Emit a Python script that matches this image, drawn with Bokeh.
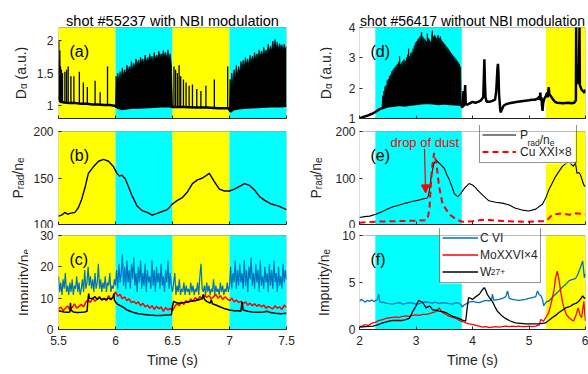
import numpy as np
from math import pi
from bokeh.plotting import figure
from bokeh.layouts import gridplot
from bokeh.models import (Range1d, FixedTicker, NumeralTickFormatter, BoxAnnotation,
                          Label, Legend, LegendItem, Arrow, NormalHead)
from bokeh.embed import file_html
from bokeh.resources import INLINE

# ---------------- data ----------------
left_title = "shot #55237 with NBI modulation"
right_title = "shot #56417 without NBI modulation"
left_xticks = [5.5, 6, 6.5, 7, 7.5]
right_xticks = [2, 3, 4, 5, 6]

# heating phases (A = yellow, B = cyan)
left_phase_start = [5.5, 6.0, 6.5, 7.0]
left_phase_end = [6.0, 6.5, 7.0, 7.5]
left_phase_kind = ["A", "B", "A", "B"]
right_phase_start = [2.28, 5.30]
right_phase_end = [3.81, 6.0]
right_phase_kind = ["B", "A"]

# (a) D-alpha, shot 55237: baseline, isolated ELM spikes, dense ELM envelopes
a_base = [(5.50, 1.12), (5.505, 1.10), (5.51, 1.07), (5.52, 1.05), (5.55, 1.04), (5.60, 1.03),
          (5.65, 1.03), (5.70, 1.02), (5.75, 1.02), (5.80, 1.01), (5.85, 1.01), (5.90, 1.00),
          (5.95, 1.00), (5.99, 0.99), (6.02, 0.96), (6.05, 0.94), (6.10, 0.95), (6.15, 0.96),
          (6.20, 0.96), (6.30, 0.97), (6.40, 0.98), (6.48, 0.98), (6.50, 0.97), (6.55, 0.97),
          (6.60, 0.97), (6.70, 0.96), (6.80, 0.96), (6.90, 0.95), (6.99, 0.95), (7.01, 0.90),
          (7.03, 0.93), (7.08, 0.95), (7.15, 0.96), (7.25, 0.97), (7.35, 0.98), (7.45, 0.98),
          (7.50, 0.99)]
a_spikes = [(5.503, 2.00), (5.508, 1.70), (5.512, 1.85), (5.518, 1.60), (5.526, 1.55),
            (5.535, 1.50), (5.556, 1.52), (5.571, 1.55), (5.585, 1.60), (5.609, 1.45),
            (5.635, 1.45), (5.683, 1.52), (5.718, 1.35), (5.753, 1.28), (5.821, 1.38),
            (5.865, 1.20), (5.930, 1.60), (6.513, 1.60), (6.527, 1.55), (6.543, 1.50),
            (6.558, 1.62), (6.572, 1.45), (6.596, 1.40), (6.619, 1.35), (6.646, 1.30),
            (6.675, 1.32), (6.713, 1.25), (6.749, 1.22), (6.793, 1.30), (6.867, 1.40),
            (6.984, 1.60)]
a_env1 = [(6.00, 1.00), (6.005, 1.45), (6.01, 1.30), (6.02, 1.50), (6.03, 1.35), (6.04, 1.52),
          (6.05, 1.40), (6.06, 1.58), (6.07, 1.45), (6.08, 1.55), (6.09, 1.48), (6.10, 1.62),
          (6.11, 1.50), (6.12, 1.60), (6.13, 1.52), (6.14, 1.68), (6.15, 1.55), (6.16, 1.65),
          (6.17, 1.58), (6.18, 1.72), (6.19, 1.60), (6.20, 1.70), (6.21, 1.62), (6.22, 1.75),
          (6.23, 1.65), (6.24, 1.72), (6.25, 1.62), (6.26, 1.78), (6.27, 1.66), (6.28, 1.74),
          (6.29, 1.68), (6.30, 1.80), (6.31, 1.70), (6.32, 1.76), (6.33, 1.66), (6.34, 1.82),
          (6.35, 1.70), (6.36, 1.78), (6.37, 1.72), (6.38, 1.84), (6.39, 1.72), (6.40, 1.80),
          (6.41, 1.74), (6.42, 1.85), (6.43, 1.76), (6.44, 1.82), (6.45, 1.72), (6.46, 1.86),
          (6.47, 1.70), (6.48, 1.80), (6.49, 1.62), (6.50, 0.98)]
a_env2 = [(7.00, 0.95), (7.005, 1.40), (7.01, 1.20), (7.02, 1.50), (7.03, 1.30), (7.04, 1.55),
          (7.05, 1.40), (7.06, 1.62), (7.07, 1.45), (7.08, 1.60), (7.09, 1.50), (7.10, 1.68),
          (7.11, 1.55), (7.12, 1.70), (7.13, 1.58), (7.14, 1.74), (7.15, 1.62), (7.16, 1.72),
          (7.17, 1.60), (7.18, 1.78), (7.19, 1.66), (7.20, 1.76), (7.21, 1.68), (7.22, 1.82),
          (7.23, 1.70), (7.24, 1.80), (7.25, 1.72), (7.26, 1.86), (7.27, 1.74), (7.28, 1.84),
          (7.29, 1.76), (7.30, 1.90), (7.31, 1.78), (7.32, 1.86), (7.33, 1.80), (7.34, 1.95),
          (7.35, 1.82), (7.36, 1.92), (7.37, 1.84), (7.38, 2.00), (7.39, 1.86), (7.40, 2.02),
          (7.41, 1.88), (7.42, 1.98), (7.43, 1.86), (7.44, 1.96), (7.45, 1.88), (7.46, 1.94),
          (7.47, 1.84), (7.48, 1.95), (7.49, 1.86), (7.50, 1.92)]

# (b) Prad/ne, shot 55237
b_prad = [(5.500, 109), (5.527, 110), (5.556, 113), (5.580, 111), (5.600, 112), (5.644, 113),
          (5.674, 118), (5.703, 127), (5.733, 140), (5.762, 155), (5.806, 162), (5.851, 168),
          (5.895, 170), (5.939, 168), (5.983, 162), (6.013, 155), (6.035, 152), (6.057, 153),
          (6.086, 149), (6.116, 140), (6.145, 131), (6.189, 120), (6.233, 115), (6.278, 113),
          (6.322, 110), (6.366, 112), (6.410, 114), (6.454, 116), (6.499, 122), (6.543, 126),
          (6.587, 129), (6.631, 135), (6.675, 144), (6.719, 148), (6.764, 150), (6.823, 155),
          (6.867, 146), (6.911, 138), (6.955, 136), (6.999, 136), (7.043, 138), (7.088, 141),
          (7.132, 144), (7.176, 142), (7.220, 137), (7.264, 130), (7.309, 126), (7.367, 122),
          (7.426, 120), (7.500, 116)]

# (c) impurity / ne, shot 55237 (C VI sampled every 10 ms, Mo every 20 ms)
c_cvi = [17, 12, 15, 11, 16, 13, 18, 12, 14, 11,
         15, 12, 16, 11, 14, 13, 17, 12, 15, 11,
         13, 16, 12, 19, 13, 15, 20, 14, 17, 13,
         16, 12, 18, 13, 15, 21, 13, 16, 12, 15,
         13, 17, 12, 15, 14, 18, 12, 14, 13, 16,
         14, 19, 13, 21, 15, 18, 24, 14, 20, 13,
         22, 15, 19, 13, 21, 16, 23, 14, 18, 12,
         20, 15, 22, 13, 18, 14, 21, 12, 19, 15,
         17, 13, 22, 14, 19, 12, 20, 15, 18, 13,
         21, 14, 17, 12, 19, 15, 22, 13, 18, 14,
         12, 15, 18, 11, 14, 12, 16, 11, 13, 12,
         15, 11, 14, 12, 13, 11, 15, 12, 14, 11,
         13, 12, 15, 11, 17, 21, 13, 12, 14, 11,
         15, 12, 14, 11, 13, 12, 16, 11, 14, 12,
         13, 11, 15, 12, 14, 11, 13, 12, 15, 12,
         14, 20, 13, 18, 15, 22, 13, 19, 14, 21,
         15, 18, 13, 22, 14, 19, 12, 20, 16, 23,
         14, 18, 13, 21, 15, 19, 12, 22, 14, 17,
         13, 20, 15, 18, 12, 21, 14, 19, 13, 22,
         15, 18, 12, 20, 14, 17, 13, 21, 15, 19,
         16]
c_mo = [6.5, 7.2, 6.0, 6.8, 7.5, 6.3, 7.0, 8.2, 6.8, 7.4,
        8.0, 7.2, 8.8, 9.5, 8.6, 10.2, 9.0, 9.8, 10.5, 9.4,
        10.0, 9.2, 10.8, 9.6, 10.4, 12.0, 10.6, 11.2, 9.8, 10.4,
        9.2, 9.8, 8.6, 9.0, 8.2, 8.8, 7.6, 8.4, 7.2, 7.8,
        6.8, 7.6, 6.4, 7.4, 6.6, 7.2, 5.8, 7.0, 6.2, 6.8,
        6.0, 7.4, 8.2, 7.6, 8.8, 8.0, 9.2, 8.6, 9.8, 9.0,
        10.2, 9.4, 10.6, 9.8, 11.0, 10.2, 10.8, 9.8, 10.4, 11.2,
        10.0, 10.8, 9.6, 10.4, 9.8, 9.2, 10.0, 8.8, 9.4, 8.6,
        9.0, 8.2, 8.8, 7.8, 8.4, 7.6, 8.2, 7.4, 8.0, 7.2,
        7.8, 6.8, 7.4, 7.0, 6.6, 7.6, 6.8, 7.2, 6.4, 7.8,
        7.0]
c_w = [(5.50, 6.0), (5.52, 5.8), (5.55, 5.6), (5.58, 5.5), (5.60, 5.6), (5.605, 8.5), (5.61, 6.2),
       (5.63, 5.6), (5.66, 5.4), (5.70, 5.5), (5.73, 5.6), (5.75, 5.8), (5.76, 10.0), (5.765, 11.5),
       (5.77, 10.0), (5.80, 9.8), (5.82, 10.5), (5.84, 9.6), (5.86, 10.2), (5.88, 9.5), (5.90, 9.8),
       (5.92, 9.6), (5.94, 10.0), (5.96, 9.5), (5.98, 10.5), (5.985, 11.5), (5.99, 9.5), (6.00, 8.8),
       (6.02, 8.0), (6.05, 7.5), (6.08, 6.8), (6.10, 6.2), (6.13, 5.8), (6.16, 5.4), (6.20, 5.0),
       (6.25, 4.8), (6.30, 4.6), (6.35, 4.5), (6.40, 4.5), (6.45, 4.6), (6.49, 4.7), (6.50, 7.5),
       (6.51, 9.0), (6.53, 8.6), (6.56, 8.4), (6.60, 8.6), (6.63, 8.8), (6.66, 9.0), (6.70, 9.2),
       (6.73, 9.5), (6.76, 9.8), (6.77, 11.2), (6.78, 9.6), (6.80, 9.0), (6.83, 8.4), (6.84, 9.5),
       (6.85, 8.2), (6.88, 7.8), (6.92, 7.2), (6.96, 6.6), (7.00, 6.2), (7.04, 6.0), (7.08, 6.0),
       (7.10, 5.8), (7.11, 8.8), (7.12, 6.2), (7.16, 5.8), (7.20, 5.6), (7.25, 5.5), (7.30, 5.6),
       (7.33, 5.8), (7.36, 5.4), (7.40, 5.2), (7.45, 5.0), (7.50, 5.2)]

# (d) D-alpha, shot 56417 (two spikes run off the top of the axes)
d_base = [(2.00, 1.00), (2.05, 1.04), (2.10, 1.07), (2.15, 1.10), (2.20, 1.14), (2.25, 1.18),
          (2.30, 1.24), (2.35, 1.30), (2.40, 1.34), (2.45, 1.37), (2.50, 1.40), (2.60, 1.42),
          (2.70, 1.45), (2.80, 1.43), (2.90, 1.46), (3.00, 1.48), (3.10, 1.50), (3.20, 1.52),
          (3.30, 1.50), (3.40, 1.48), (3.50, 1.50), (3.60, 1.48), (3.70, 1.47), (3.80, 1.45),
          (3.82, 1.35), (3.84, 1.90), (3.85, 1.40), (3.87, 2.10), (3.88, 1.50), (3.90, 1.45),
          (3.95, 1.50), (4.00, 1.55), (4.05, 1.52), (4.10, 1.55), (4.15, 1.60), (4.19, 1.70),
          (4.20, 2.30), (4.21, 2.95), (4.22, 2.20), (4.23, 1.70), (4.25, 1.55), (4.30, 1.55),
          (4.35, 1.58), (4.40, 1.62), (4.42, 1.90), (4.44, 2.60), (4.45, 2.80), (4.46, 2.50),
          (4.47, 1.80), (4.49, 1.30), (4.50, 1.20), (4.52, 1.30), (4.55, 1.42), (4.60, 1.48),
          (4.70, 1.52), (4.80, 1.55), (4.90, 1.58), (5.00, 1.60), (5.05, 1.62), (5.10, 1.62),
          (5.15, 1.65), (5.18, 1.72), (5.19, 1.62), (5.20, 1.85), (5.21, 1.60), (5.22, 1.70),
          (5.23, 1.45), (5.24, 1.25), (5.25, 1.50), (5.27, 1.65), (5.30, 1.75), (5.32, 1.85),
          (5.33, 1.70), (5.35, 2.03), (5.36, 1.80), (5.38, 1.75), (5.40, 1.70), (5.43, 1.62),
          (5.46, 1.55), (5.50, 1.52), (5.60, 1.50), (5.70, 1.52), (5.75, 1.50), (5.80, 1.52),
          (5.83, 1.60), (5.835, 4.00), (5.84, 2.30), (5.86, 2.20), (5.88, 2.15), (5.894, 4.00),
          (5.90, 2.10), (5.93, 1.95), (5.96, 1.90), (5.98, 1.85), (6.00, 1.95)]
d_env = [(2.40, 1.40), (2.41, 1.75), (2.42, 1.55), (2.43, 1.90), (2.44, 1.70), (2.45, 2.05),
         (2.46, 1.80), (2.47, 2.10), (2.48, 1.90), (2.49, 2.25), (2.50, 2.00), (2.51, 2.30),
         (2.52, 2.10), (2.53, 2.40), (2.54, 2.15), (2.55, 2.45), (2.56, 2.20), (2.57, 2.55),
         (2.58, 2.30), (2.59, 2.60), (2.60, 2.35), (2.61, 2.65), (2.62, 2.40), (2.63, 2.70),
         (2.64, 2.45), (2.65, 2.75), (2.66, 2.50), (2.67, 2.80), (2.68, 2.55), (2.69, 2.85),
         (2.70, 2.60), (2.71, 3.05), (2.72, 2.55), (2.73, 2.80), (2.74, 2.50), (2.75, 2.85),
         (2.76, 2.60), (2.77, 2.90), (2.78, 2.65), (2.79, 2.95), (2.80, 2.70), (2.81, 2.90),
         (2.82, 2.60), (2.83, 3.00), (2.84, 2.75), (2.85, 3.10), (2.86, 2.80), (2.87, 3.30),
         (2.88, 2.85), (2.89, 3.05), (2.90, 2.80), (2.91, 3.15), (2.92, 2.90), (2.93, 3.20),
         (2.94, 2.95), (2.95, 3.30), (2.96, 3.00), (2.97, 3.40), (2.98, 3.10), (2.99, 3.50),
         (3.00, 3.20), (3.01, 3.55), (3.02, 3.25), (3.03, 3.60), (3.04, 3.30), (3.05, 3.65),
         (3.06, 3.35), (3.07, 3.70), (3.08, 3.40), (3.09, 3.75), (3.10, 3.85), (3.11, 3.45),
         (3.12, 3.70), (3.13, 3.40), (3.14, 3.65), (3.15, 3.35), (3.16, 3.60), (3.17, 3.30),
         (3.18, 3.55), (3.19, 3.35), (3.20, 3.80), (3.21, 3.40), (3.22, 3.65), (3.23, 3.35),
         (3.24, 3.60), (3.25, 3.30), (3.26, 3.55), (3.27, 3.40), (3.28, 3.75), (3.29, 3.90),
         (3.30, 3.50), (3.31, 3.70), (3.32, 3.45), (3.33, 3.75), (3.34, 3.50), (3.35, 3.70),
         (3.36, 3.40), (3.37, 3.65), (3.38, 3.45), (3.39, 3.75), (3.40, 3.50), (3.41, 3.65),
         (3.42, 3.40), (3.43, 3.70), (3.44, 3.45), (3.45, 3.60), (3.46, 3.35), (3.47, 3.55),
         (3.48, 3.30), (3.49, 3.50), (3.50, 3.25), (3.51, 3.45), (3.52, 3.20), (3.53, 3.40),
         (3.54, 3.15), (3.55, 3.35), (3.56, 3.10), (3.57, 3.30), (3.58, 3.05), (3.59, 3.25),
         (3.60, 3.00), (3.61, 3.20), (3.62, 2.95), (3.63, 3.15), (3.64, 2.90), (3.65, 3.10),
         (3.66, 2.85), (3.67, 3.05), (3.68, 2.80), (3.69, 3.00), (3.70, 2.75), (3.71, 2.95),
         (3.72, 2.70), (3.73, 2.90), (3.74, 2.65), (3.75, 2.85), (3.76, 2.60), (3.77, 2.80),
         (3.78, 2.50), (3.79, 2.70), (3.80, 1.50)]

# (e) Prad/ne and Cu XXI x 8, shot 56417
e_prad = [(2.00, 15), (2.09, 17), (2.18, 18), (2.29, 22), (2.35, 25), (2.41, 28), (2.47, 32),
          (2.53, 35), (2.59, 38), (2.65, 40), (2.71, 42), (2.76, 44), (2.82, 46), (2.88, 48),
          (2.94, 50), (3.00, 51), (3.06, 53), (3.12, 55), (3.16, 56), (3.20, 57), (3.22, 62),
          (3.24, 75), (3.27, 103), (3.30, 122), (3.32, 132), (3.36, 138), (3.39, 134), (3.41, 132),
          (3.45, 127), (3.50, 121), (3.55, 106), (3.59, 96), (3.64, 80), (3.68, 66), (3.74, 60),
          (3.79, 66), (3.84, 75), (3.88, 81), (3.94, 88), (4.00, 85), (4.05, 80), (4.09, 74),
          (4.18, 63), (4.29, 51), (4.41, 48), (4.53, 46), (4.65, 42), (4.76, 35), (4.88, 31),
          (5.00, 29), (5.12, 33), (5.24, 44), (5.30, 58), (5.35, 74), (5.47, 103), (5.59, 125),
          (5.65, 131), (5.71, 134), (5.76, 128), (5.79, 125), (5.82, 135), (5.85, 110), (5.88, 112),
          (5.91, 107), (5.97, 85), (6.00, 81)]
e_cu = [(2.00, 4), (2.30, 6), (2.59, 7), (2.90, 8), (3.18, 9), (3.21, 15), (3.24, 37), (3.28, 118),
        (3.32, 154), (3.36, 132), (3.41, 81), (3.47, 44), (3.59, 22), (3.71, 11), (3.82, 6),
        (4.00, 7), (4.18, 10), (4.35, 9), (4.59, 7), (4.94, 6), (5.24, 7), (5.32, 9), (5.41, 21),
        (5.59, 24), (5.71, 21), (5.82, 24), (6.00, 22)]
dust_text_pos = (2.55, 176)
dust_arrow = (3.15, 163, 3.17, 68)

# (f) impurity / ne, shot 56417
f_cvi = [(2.00, 3.0), (2.03, 3.2), (2.06, 3.1), (2.10, 2.9), (2.14, 3.1), (2.18, 3.0), (2.22, 3.15),
         (2.26, 2.95), (2.29, 3.1), (2.32, 3.2), (2.34, 3.75), (2.36, 3.0), (2.38, 2.86), (2.42, 2.9),
         (2.47, 2.8), (2.52, 2.75), (2.59, 2.7), (2.65, 2.8), (2.71, 2.86), (2.76, 2.7), (2.82, 2.75),
         (2.88, 2.85), (2.94, 2.8), (3.00, 2.7), (3.06, 2.75), (3.12, 2.9), (3.18, 2.95), (3.24, 2.85),
         (3.29, 2.8), (3.35, 2.9), (3.41, 2.75), (3.47, 2.85), (3.53, 2.8), (3.59, 2.75), (3.65, 2.7),
         (3.71, 2.85), (3.76, 2.8), (3.80, 2.6), (3.82, 2.4), (3.85, 2.6), (3.88, 2.7), (3.94, 2.9),
         (4.00, 3.0), (4.06, 2.9), (4.12, 2.86), (4.18, 3.0), (4.24, 3.1), (4.30, 3.05), (4.34, 3.2),
         (4.35, 3.75), (4.38, 3.1), (4.42, 3.15), (4.47, 3.2), (4.53, 3.3), (4.59, 3.5), (4.62, 4.1),
         (4.65, 3.3), (4.71, 3.2), (4.76, 3.15), (4.82, 3.1), (4.88, 3.15), (4.94, 3.2), (5.00, 3.3),
         (5.06, 3.4), (5.12, 3.5), (5.15, 4.1), (5.18, 3.7), (5.21, 3.6), (5.24, 3.2), (5.26, 2.5),
         (5.29, 2.8), (5.32, 3.0), (5.35, 3.0), (5.41, 3.4), (5.47, 3.75), (5.53, 4.1), (5.59, 4.5),
         (5.65, 4.8), (5.71, 5.2), (5.76, 5.3), (5.82, 5.4), (5.86, 5.8), (5.91, 6.6), (5.95, 7.3),
         (5.98, 5.5), (6.00, 5.9)]
f_mo = [(2.00, 0.4), (2.04, 0.3), (2.08, 0.5), (2.12, 0.5), (2.16, 0.45), (2.20, 0.6), (2.24, 0.7),
        (2.28, 0.75), (2.32, 0.9), (2.35, 0.96), (2.41, 1.05), (2.47, 1.18), (2.53, 1.25), (2.59, 1.3),
        (2.65, 1.35), (2.70, 1.3), (2.76, 1.4), (2.82, 1.45), (2.88, 1.4), (2.94, 1.5), (3.00, 1.55),
        (3.06, 1.5), (3.12, 1.6), (3.18, 1.6), (3.24, 1.7), (3.29, 1.8), (3.35, 1.9), (3.41, 2.3),
        (3.44, 2.0), (3.47, 1.8), (3.53, 1.6), (3.59, 1.4), (3.65, 1.3), (3.71, 1.18), (3.76, 1.0),
        (3.79, 0.9), (3.84, 0.8), (3.88, 0.7), (3.94, 0.6), (4.00, 0.54), (4.06, 0.45), (4.12, 0.35),
        (4.18, 0.25), (4.24, 0.3), (4.30, 0.2), (4.35, 0.25), (4.41, 0.3), (4.47, 0.25), (4.53, 0.3),
        (4.59, 0.35), (4.65, 0.3), (4.71, 0.36), (4.76, 0.3), (4.82, 0.35), (4.88, 0.3), (4.94, 0.3),
        (5.00, 0.35), (5.06, 0.3), (5.12, 0.36), (5.18, 0.5), (5.21, 1.07), (5.24, 0.95), (5.26, 0.9),
        (5.30, 1.3), (5.35, 1.8), (5.40, 3.0), (5.44, 4.1), (5.47, 5.5), (5.50, 6.2), (5.53, 5.3),
        (5.56, 4.1), (5.59, 3.0), (5.62, 2.3), (5.66, 1.6), (5.71, 1.25), (5.76, 1.0), (5.79, 0.9),
        (5.83, 1.5), (5.87, 2.3), (5.90, 1.6), (5.93, 1.25), (5.95, 2.0), (5.97, 3.0), (5.99, 1.5),
        (6.00, 0.9)]
f_w = [(2.00, 0.25), (2.10, 0.3), (2.24, 0.36), (2.32, 0.5), (2.41, 0.7), (2.50, 0.85), (2.59, 0.96),
       (2.68, 0.98), (2.76, 0.96), (2.82, 1.05), (2.88, 1.18), (2.91, 1.5), (2.94, 1.9), (2.97, 2.2),
       (3.00, 2.5), (3.03, 2.9), (3.05, 3.1), (3.08, 3.0), (3.12, 2.86), (3.15, 2.6), (3.18, 2.3),
       (3.21, 2.4), (3.24, 2.5), (3.27, 2.3), (3.29, 2.1), (3.35, 2.05), (3.41, 1.96), (3.47, 1.9),
       (3.53, 1.8), (3.59, 1.6), (3.65, 1.4), (3.71, 1.3), (3.76, 1.18), (3.82, 1.0), (3.88, 0.9),
       (3.90, 2.0), (3.93, 3.4), (3.97, 3.3), (4.00, 3.2), (4.06, 3.5), (4.12, 3.75), (4.17, 4.2),
       (4.21, 4.46), (4.24, 4.1), (4.26, 3.75), (4.30, 3.4), (4.35, 3.0), (4.40, 2.4), (4.44, 1.96),
       (4.48, 1.7), (4.53, 1.4), (4.59, 1.15), (4.65, 0.96), (4.71, 0.8), (4.76, 0.7), (4.85, 0.65),
       (4.94, 0.6), (5.06, 0.6), (5.18, 0.6), (5.29, 0.7), (5.35, 0.95), (5.41, 1.25), (5.47, 1.5),
       (5.53, 1.8), (5.59, 2.05), (5.65, 2.3), (5.70, 2.4), (5.74, 2.5), (5.79, 2.7), (5.84, 2.8),
       (5.88, 3.0), (5.92, 3.3), (5.95, 3.57), (5.98, 3.3), (6.00, 3.4)]

# ---------------- styling / layout ----------------
FONT = "Liberation Sans"
TXT = "#262626"
PHASE_COLOR = {"A": "#FFFF00", "B": "#00FFFF"}
BLUE = "#0072BD"
RED = "#FF0000"
CW = {'D': 722, 'α': 578, ' ': 278, '(': 333, ')': 333, 'a': 556, '.': 278, 'u': 556, 'P': 667,
      'r': 333, 'd': 556, '/': 278, 'n': 556, 'e': 556, 'I': 278, 'm': 833, 'p': 556, 'i': 222,
      't': 278, 'y': 500, 'W': 944, '2': 556, '7': 556, '+': 584}

# every figure in a row shares these vertical borders, every figure in a column
# shares the horizontal ones (the grid aligns plot frames)
ROW_TOP = [0, 2, 0]
ROW_EXT = [27, 6, 7]      # white strip kept above each axes box (title / legend overhang)
ROW_VIS = [91, 93, 94]    # axes box height
ROW_BOT = [5, 4, 45]
L_LAB_W, L_BL, L_FW, L_BR = 28, 30, 228, 14
R_LAB_W, R_BL, R_FW, R_BR = 32, 25, 226, 5


def tw(s, size):
    return sum(CW.get(c, 556) for c in s) * size / 1000.0


def xy(pairs):
    t, v = zip(*pairs)
    return np.array(t), np.array(v)


def make_fig(xr, yr, xticks, yticks, left_col, row):
    if left_col:
        bl, br, fw = L_BL, L_BR, L_FW
    else:
        bl, br, fw = R_BL, R_BR, R_FW
    ext = ROW_EXT[row]
    y_hi = yr[1] + (yr[1] - yr[0]) / ROW_VIS[row] * ext
    p = figure(frame_width=fw, frame_height=ROW_VIS[row] + ext, min_border_left=bl,
               min_border_right=br, min_border_top=ROW_TOP[row],
               min_border_bottom=ROW_BOT[row],
               x_range=Range1d(*xr), y_range=Range1d(yr[0], y_hi), output_backend="svg",
               toolbar_location=None, tools="")
    p.grid.visible = False
    p.background_fill_color = "white"
    p.border_fill_color = "white"
    p.outline_line_color = None
    p.add_layout(BoxAnnotation(left=xr[0], right=xr[1], bottom=yr[0], top=yr[1],
                               fill_color=None, line_color=TXT, line_width=1,
                               level="overlay"))
    for ax in (p.xaxis[0], p.yaxis[0]):
        ax.axis_line_color = TXT
        ax.major_tick_line_color = TXT
        ax.major_tick_in = 3
        ax.major_tick_out = 0
        ax.minor_tick_line_color = None
        ax.major_label_text_font = FONT
        ax.major_label_text_font_size = "12px"
        ax.major_label_text_color = TXT
        ax.major_label_standoff = 5
        ax.formatter = NumeralTickFormatter(format="0.[0]")
    if not left_col:
        p.yaxis.major_label_standoff = 4
    p.yaxis.axis_line_color = None
    p.xaxis.ticker = FixedTicker(ticks=xticks)
    p.yaxis.ticker = FixedTicker(ticks=yticks)
    if row < 2:
        p.xaxis.major_label_text_color = None
        p.xaxis.major_label_text_font_size = "1px"
        p.xaxis.major_label_standoff = 0
    else:
        p.xaxis.major_label_standoff = 6
        p.xaxis.axis_label = "Time (s)"
        p.xaxis.axis_label_text_font = FONT
        p.xaxis.axis_label_text_font_size = "14px"
        p.xaxis.axis_label_text_font_style = "normal"
        p.xaxis.axis_label_text_color = TXT
        p.xaxis.axis_label_standoff = 4
    return p


def label_fig(w, row):
    h = ROW_VIS[row] + ROW_EXT[row]
    p = figure(frame_width=w, frame_height=h, min_border_left=0, min_border_right=0,
               min_border_top=ROW_TOP[row], min_border_bottom=ROW_BOT[row],
               x_range=Range1d(0, w), y_range=Range1d(0, h),
               x_axis_location=None, y_axis_location=None, output_backend="svg",
               toolbar_location=None, tools="")
    p.grid.visible = False
    p.outline_line_color = None
    p.background_fill_color = "white"
    p.border_fill_color = "white"
    return p


def phases(p, yr, starts, ends, kinds):
    for s, e, k in zip(starts, ends, kinds):
        p.add_layout(BoxAnnotation(left=s, right=e, bottom=yr[0], top=yr[1],
                                   fill_color=PHASE_COLOR[k], fill_alpha=1,
                                   line_color=None, level="underlay"))


def letter(p, xr, yr, txt):
    p.add_layout(Label(x=xr[0], y=yr[1], x_offset=11, y_offset=-24, text=txt,
                       text_baseline="middle", text_font=FONT, text_font_size="16px",
                       text_color="black"))


def title(p, xr, yr, txt, size):
    p.add_layout(Label(x=(xr[0] + xr[1]) / 2, y=yr[1], y_offset=7, text=txt,
                       text_align="center", text_baseline="alphabetic", text_font=FONT,
                       text_font_size=size, text_color="black"))


def vlabel_fig(w, row, pieces, base_x):
    p = label_fig(w, row)
    cy = ROW_VIS[row] / 2
    total = sum(tw(t, s) for t, s, _ in pieces)
    cur = cy - total / 2
    for t, s, sh in pieces:
        lead = len(t) - len(t.lstrip(" "))
        p.add_layout(Label(x=base_x + sh, y=cur + tw(" " * lead, s), text=t.lstrip(" "),
                           angle=pi / 2, text_font=FONT, text_font_size=f"{s}px",
                           text_color=TXT, text_align="left", text_baseline="alphabetic"))
        cur += tw(t, s)
    return p


def px_to_data(xr, yr, fw, vis, px, py):
    return xr[0] + px / fw * (xr[1] - xr[0]), yr[0] + py / vis * (yr[1] - yr[0])


def legend_with_rich(p, xr, yr, fw, vis, items, loc, pad, row_h, gly, stand, lab_w, extras):
    """Legend with transparent body over a white box, so rich-text pieces can sit on it."""
    n = len(items)
    w = 2 * pad + gly + stand + lab_w
    h = 2 * pad + n * row_h
    x0, y0 = px_to_data(xr, yr, fw, vis, loc[0], loc[1])
    x1, y1 = px_to_data(xr, yr, fw, vis, loc[0] + w, loc[1] + h)
    p.add_layout(BoxAnnotation(left=x0, right=x1, bottom=y0, top=y1, fill_color="white",
                               fill_alpha=1, line_color=None, level="annotation"))
    lab_x = loc[0] + pad + gly + stand
    top = loc[1] + h
    for (row_i, first, pieces) in extras:
        base_y = top - pad - row_h * (row_i + 0.5) - 4.3
        cur = lab_x + tw(first, 12)
        for t, s, dy in pieces:
            p.add_layout(Label(x=xr[0], y=yr[0], x_offset=cur, y_offset=base_y + dy, text=t,
                               text_font=FONT, text_font_size=f"{s}px", text_color=TXT,
                               text_align="left", text_baseline="alphabetic",
                               level="annotation"))
            cur += tw(t, s)
    leg = Legend(items=items, location=loc, padding=pad, spacing=0, margin=0,
                 glyph_width=gly, glyph_height=row_h, label_height=row_h, label_width=lab_w,
                 label_standoff=stand, border_line_color=TXT, border_line_width=1,
                 background_fill_alpha=0, label_text_font=FONT, label_text_font_size="12px",
                 label_text_color=TXT, level="overlay")
    p.add_layout(leg)


LS, SS, SUB = 14, 10, 2.5
DA_LABEL = [("D", LS, 0), ("α", SS, SUB), (" (a.u.)", LS, 0)]
PR_LABEL = [("P", LS, 0), ("rad", SS, SUB), ("/n", LS, 0), ("e", SS, SUB)]
IM_LABEL = [("Impurity/n", LS, 0), ("e", SS, SUB)]

LX, RX = (5.5, 7.5), (2.0, 6.0)
ya, yb, yc = (0.79, 2.21), (100, 200), (0, 30)
yd, ye, yf = (1, 4), (0, 200), (0, 10)

# ---------------- (a) ----------------
pa = make_fig(LX, ya, left_xticks, [1, 1.5, 2], True, 0)
phases(pa, ya, left_phase_start, left_phase_end, left_phase_kind)
abt, aby = xy(a_base)
for env in (a_env1, a_env2):
    et, ev = xy(env)
    pa.varea(x=et, y1=np.interp(et, abt, aby), y2=ev, fill_color="black")
    pa.line(et, ev, line_color="black", line_width=0.8)
st, sv = xy(a_spikes)
pa.segment(x0=st, y0=np.interp(st, abt, aby), x1=st, y1=sv, line_color="black", line_width=1.3)
pa.line(abt, aby, line_color="black", line_width=2.5)
letter(pa, LX, ya, "(a)")
title(pa, LX, ya, left_title, "14.5px")

# ---------------- (b) ----------------
pb = make_fig(LX, yb, left_xticks, [100, 150, 200], True, 1)
phases(pb, yb, left_phase_start, left_phase_end, left_phase_kind)
bt, bv = xy(b_prad)
pb.line(bt, bv, line_color="black", line_width=1.4)
letter(pb, LX, yb, "(b)")

# ---------------- (c) ----------------
pc = make_fig(LX, yc, left_xticks, [0, 10, 20, 30], True, 2)
phases(pc, yc, left_phase_start, left_phase_end, left_phase_kind)
pc.line(np.linspace(5.5, 7.5, len(c_cvi)), c_cvi, line_color=BLUE, line_width=1.2)
pc.line(np.linspace(5.5, 7.5, len(c_mo)), c_mo, line_color=RED, line_width=1.5)
cwt, cwv = xy(c_w)
pc.line(cwt, cwv, line_color="black", line_width=1.5)
letter(pc, LX, yc, "(c)")

# ---------------- (d) ----------------
pd_ = make_fig(RX, yd, right_xticks, [1, 2, 3, 4], False, 0)
phases(pd_, yd, right_phase_start, right_phase_end, right_phase_kind)
dbt, dbv = xy(d_base)
det, dev = xy(d_env)
pd_.varea(x=det, y1=np.interp(det, dbt, dbv), y2=dev, fill_color="black")
pd_.line(det, dev, line_color="black", line_width=0.8)
pd_.line(dbt, dbv, line_color="black", line_width=2.5)
letter(pd_, RX, yd, "(d)")
title(pd_, RX, yd, right_title, "14px")

# ---------------- (e) ----------------
pe = make_fig(RX, ye, right_xticks, [0, 100, 200], False, 1)
phases(pe, ye, right_phase_start, right_phase_end, right_phase_kind)
ept, epv = xy(e_prad)
ect, ecv = xy(e_cu)
r_prad = pe.line(ept, epv, line_color="black", line_width=1.1)
r_cu = pe.line(ect, ecv, line_color=RED, line_width=2, line_dash="6 4")
pe.add_layout(Label(x=dust_text_pos[0], y=dust_text_pos[1], text="drop of dust",
                    text_baseline="middle", text_font=FONT, text_font_size="13px",
                    text_color=RED))
pe.add_layout(Arrow(end=NormalHead(size=8, fill_color=RED, line_color=RED),
                    x_start=dust_arrow[0], y_start=dust_arrow[1],
                    x_end=dust_arrow[2], y_end=dust_arrow[3],
                    line_color=RED, line_width=1.2))
legend_with_rich(pe, RX, ye, R_FW, ROW_VIS[1],
                 [LegendItem(label="P", renderers=[r_prad]),
                  LegendItem(label="Cu XXI×8", renderers=[r_cu])],
                 (120, 61), 2, 17, 34, 4, 54,
                 [(0, "P", [("rad", 8.5, -3), ("/n", 12, 0), ("e", 8.5, -3)])])
letter(pe, RX, ye, "(e)")

# ---------------- (f) ----------------
pf = make_fig(RX, yf, right_xticks, [0, 5, 10], False, 2)
phases(pf, yf, right_phase_start, right_phase_end, right_phase_kind)
fct, fcv = xy(f_cvi)
fmt, fmv = xy(f_mo)
fwt, fwv = xy(f_w)
r_c = pf.line(fct, fcv, line_color=BLUE, line_width=1.3)
r_m = pf.line(fmt, fmv, line_color=RED, line_width=1.3)
r_w = pf.line(fwt, fwv, line_color="black", line_width=1.3)
legend_with_rich(pf, RX, yf, R_FW, ROW_VIS[2],
                 [LegendItem(label="C VI", renderers=[r_c]),
                  LegendItem(label="MoXXVI×4", renderers=[r_m]),
                  LegendItem(label="W", renderers=[r_w])],
                 (80, 46), 2, 17, 36, 2, 58,
                 [(2, "W", [("27+", 8.5, 5)])])
letter(pf, RX, yf, "(f)")

# ---------------- y labels ----------------
la = vlabel_fig(L_LAB_W, 0, DA_LABEL, 20)
lb = vlabel_fig(L_LAB_W, 1, PR_LABEL, 17)
lc = vlabel_fig(L_LAB_W, 2, IM_LABEL, 23)
ld = vlabel_fig(R_LAB_W, 0, DA_LABEL, 25)
le = vlabel_fig(R_LAB_W, 1, PR_LABEL, 15)
lf = vlabel_fig(R_LAB_W, 2, IM_LABEL, 23)

grid = gridplot([[la, pa, ld, pd_],
                 [lb, pb, le, pe],
                 [lc, pc, lf, pf]], toolbar_location=None)
open("out.html", "w").write(file_html(grid, INLINE))
